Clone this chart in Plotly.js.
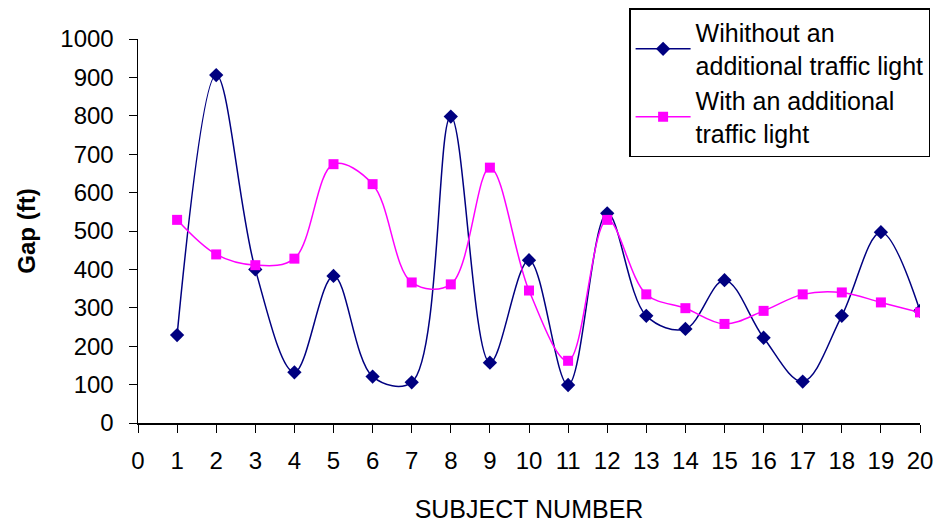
<!DOCTYPE html>
<html>
<head>
<meta charset="utf-8">
<script src="https://cdn.plot.ly/plotly-3.0.1.min.js"></script>
<style>html,body{margin:0;padding:0;background:#fff;}#chart{width:938px;height:525px;}</style>
</head>
<body>
<div id="chart"></div>
<script>
const subjects = [1,2,3,4,5,6,7,8,9,10,11,12,13,14,15,16,17,18,19,20];
const withoutLight = [229,906,400,132,383,121,106,798,157,424,99,546,279,245,372,222,108,279,497,292];
const withLight = [529,439,411,428,674,622,366,361,665,345,162,529,335,299,258,292,335,340,314,288];
const xTickVals = [0,1,2,3,4,5,6,7,8,9,10,11,12,13,14,15,16,17,18,19,20];
const yTickVals = [0,100,200,300,400,500,600,700,800,900,1000];

const font = "Liberation Sans, Arial, sans-serif";
const data = [
  {
    x: subjects, y: withoutLight, type: 'scatter', mode: 'lines+markers',
    name: 'Wihithout an<br>additional traffic light',
    line: {color: '#000080', width: 1.5, shape: 'spline', smoothing: 1},
    marker: {symbol: 'diamond', size: 11, color: '#000080'}
  },
  {
    x: subjects, y: withLight, type: 'scatter', mode: 'lines+markers',
    name: 'With an additional<br>traffic light',
    line: {color: '#FF00FF', width: 1.5, shape: 'spline', smoothing: 1},
    marker: {symbol: 'square', size: 10, color: '#FF00FF'}
  }
];
const layout = {
  width: 938, height: 525,
  margin: {l: 138, r: 18, t: 39, b: 102, autoexpand: false},
  paper_bgcolor: '#fff', plot_bgcolor: '#fff',
  font: {family: font, size: 25, color: '#000'},
  showlegend: true,
  legend: {
    x: 0.628, y: 1.08, xanchor: 'left', yanchor: 'top',
    bgcolor: '#fff', bordercolor: '#000', borderwidth: 1.5,
    font: {family: font, size: 25, color: '#000'},
    itemwidth: 55,
    tracegroupgap: 6
  },
  xaxis: {
    range: [0, 20], tickvals: xTickVals, ticktext: xTickVals.map(String),
    showgrid: false, zeroline: false, showline: true, linecolor: '#000', linewidth: 1.5,
    ticks: 'outside', ticklen: 8, tickcolor: '#000', tickwidth: 1,
    ticklabelstandoff: 8,
    tickfont: {family: font, size: 24},
    title: {text: 'SUBJECT NUMBER', font: {family: font, size: 25}, standoff: 27}
  },
  yaxis: {
    range: [0, 1000], tickvals: yTickVals,
    showgrid: false, zeroline: false, showline: true, linecolor: '#000', linewidth: 1.5,
    ticks: 'outside', ticklen: 8, tickcolor: '#000', tickwidth: 1,
    ticklabelstandoff: 10,
    tickfont: {family: font, size: 24},
    title: {text: '<b>Gap (ft)</b>', font: {family: font, size: 24}, standoff: 18}
  }
};
Plotly.newPlot('chart', data, layout, {displayModeBar: false, staticPlot: true});
</script>
</body>
</html>
